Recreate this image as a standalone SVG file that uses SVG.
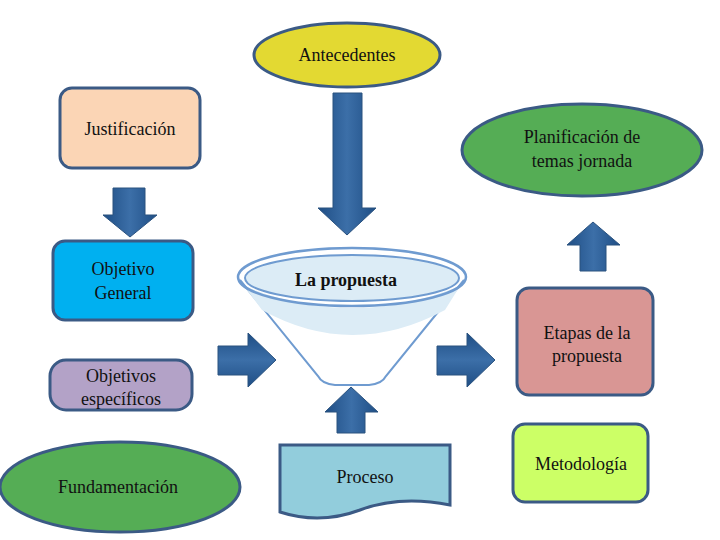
<svg xmlns="http://www.w3.org/2000/svg" width="720" height="540" viewBox="0 0 720 540">
<defs>
<linearGradient id="ah" x1="0" y1="0" x2="1" y2="0"><stop offset="0" stop-color="#1f4e85"/><stop offset="0.5" stop-color="#3c6fa8"/><stop offset="1" stop-color="#1f4e85"/></linearGradient>
<linearGradient id="av" x1="0" y1="0" x2="0" y2="1"><stop offset="0" stop-color="#1f4e85"/><stop offset="0.5" stop-color="#3c6fa8"/><stop offset="1" stop-color="#1f4e85"/></linearGradient>
</defs>
<style>
.n{stroke:#3b5a85;stroke-width:3}
.t{font-family:"Liberation Serif","DejaVu Serif",serif;font-size:18px;fill:#111;text-anchor:middle}
.ar{stroke:#2a527f;stroke-width:1}
</style>
<g id="la-propuesta">
<path d="M240,280 L318,376 Q322,384 335,385 L369,385 Q382,384 386,376 L464,280" fill="#fff" stroke="#6f9bd0" stroke-width="2"/>
<path d="M244,286 Q352,330 460,286 L445,310 Q352,360 262,310 Z" fill="#dcecf6"/>
<ellipse cx="352" cy="277" rx="114" ry="29" fill="none" stroke="#6f9bd0" stroke-width="2.5"/>
<ellipse cx="352" cy="278" rx="107" ry="23" fill="#dcecf6" stroke="#6f9bd0" stroke-width="2"/>
<text class="t" x="346" y="286" font-weight="bold">La propuesta</text>
</g>
<g id="connectors">
<polygon class="ar" fill="url(#ah)" points="113,188 145,188 145,215 157,215 130,237 103,215 113,215"/>
<polygon class="ar" fill="url(#ah)" points="333,93 362,93 362,208 376,208 347,235 318,208 333,208"/>
<polygon class="ar" fill="url(#av)" points="218,346 248,346 248,333 276,360 248,387 248,375 218,375"/>
<polygon class="ar" fill="url(#av)" points="437,346 467,346 467,333 495,360 467,387 467,375 437,375"/>
<polygon class="ar" fill="url(#ah)" points="337,433 365,433 365,412 378,412 351,387 325,412 337,412"/>
<polygon class="ar" fill="url(#ah)" points="580,271 606,271 606,245 620,245 593,222 567,245 580,245"/>
</g>
<g id="antecedentes"><ellipse class="n" cx="347" cy="55" rx="93" ry="32" fill="#e3d932"/><text class="t" x="347" y="61">Antecedentes</text></g>
<g id="justificacion"><rect class="n" x="60" y="88" width="140" height="80" rx="12" fill="#fbd5b5"/><text class="t" x="130" y="135">Justificación</text></g>
<g id="objetivo-general"><rect class="n" x="53" y="241" width="140" height="79" rx="12" fill="#00b0f0"/><text class="t" x="123" y="275">Objetivo</text><text class="t" x="123" y="299">General</text></g>
<g id="objetivos-especificos"><rect class="n" x="50" y="360" width="142" height="50" rx="16" fill="#b3a2c7"/><text class="t" x="121" y="382">Objetivos</text><text class="t" x="121" y="405">específicos</text></g>
<g id="fundamentacion"><ellipse class="n" cx="120" cy="487" rx="120" ry="45" fill="#55ad55"/><text class="t" x="118" y="493">Fundamentación</text></g>
<g id="proceso"><path class="n" d="M280,445 L450,445 L450,505 Q400,495 360,510 Q320,525 280,512 Z" fill="#92cddc"/><text class="t" x="365" y="483">Proceso</text></g>
<g id="planificacion"><ellipse class="n" cx="582" cy="150" rx="120" ry="46" fill="#55ad55"/><text class="t" x="582" y="143">Planificación de</text><text class="t" x="582" y="167">temas jornada</text></g>
<g id="etapas"><rect class="n" x="517" y="288" width="136" height="107" rx="12" fill="#d99694"/><text class="t" x="587" y="339">Etapas de la</text><text class="t" x="587" y="362">propuesta</text></g>
<g id="metodologia"><rect class="n" x="513" y="424" width="135" height="78" rx="12" fill="#ccff66"/><text class="t" x="581" y="470">Metodología</text></g>
</svg>
